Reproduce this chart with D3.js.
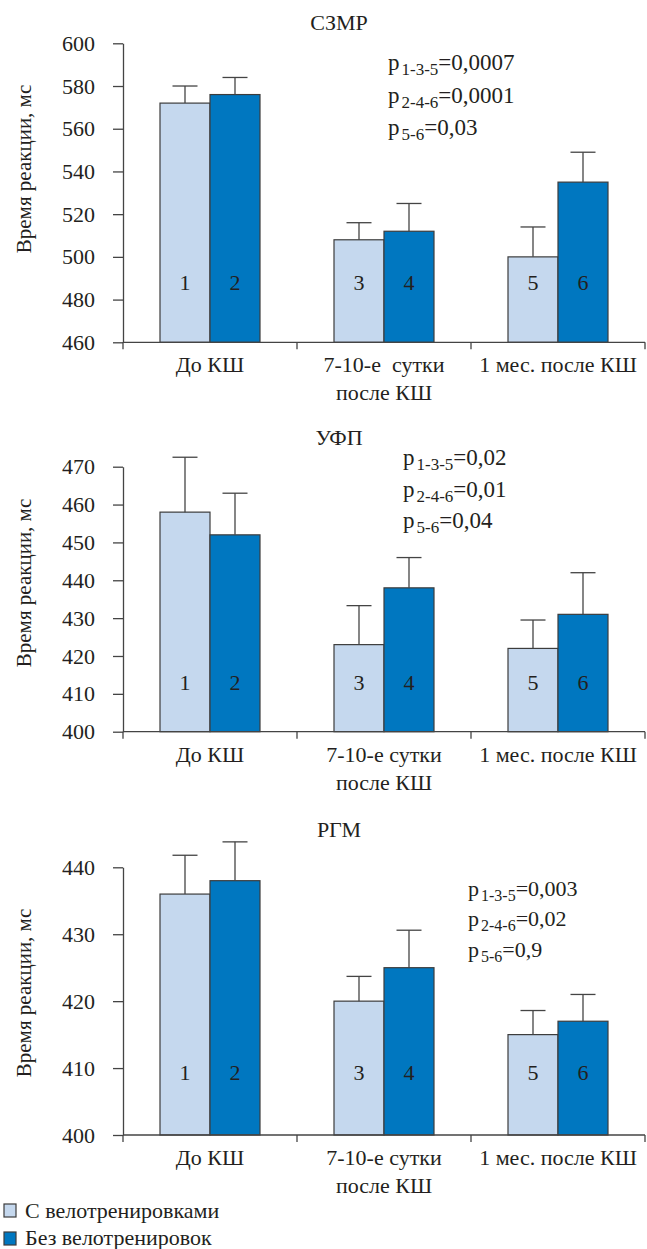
<!DOCTYPE html>
<html>
<head>
<meta charset="utf-8">
<script src="https://cdn.jsdelivr.net/npm/d3@7"></script>
<style>
  body { margin: 0; background: #fff; }
  svg text { font-family: "Liberation Serif", "Times New Roman", serif; fill: #231f20; }
</style>
</head>
<body>
<script>
// categories and series
var categories = ['До КШ', '7-10-е сутки', '1 мес. после КШ'];
var catLines1 = [['До КШ'], ['7-10-е  сутки', 'после КШ'], ['1 мес. после КШ']];
var catLines = [['До КШ'], ['7-10-е сутки', 'после КШ'], ['1 мес. после КШ']];
var seriesNames = ['С велотренировками', 'Без велотренировок'];
var barNumbers = [[1, 2], [3, 4], [5, 6]];

// СЗМР
var szmrLight = [572, 508, 500];
var szmrLightErr = [8, 8, 14];
var szmrDark = [576, 512, 535];
var szmrDarkErr = [8, 13, 14];
var szmrTicks = [460, 480, 500, 520, 540, 560, 580, 600];
var szmrP = [['1-3-5', '0,0007'], ['2-4-6', '0,0001'], ['5-6', '0,03']];

// УФП
var ufpLight = [458, 423, 422];
var ufpLightErr = [14.5, 10.3, 7.5];
var ufpDark = [452, 438, 431];
var ufpDarkErr = [11, 8, 11];
var ufpTicks = [400, 410, 420, 430, 440, 450, 460, 470];
var ufpP = [['1-3-5', '0,02'], ['2-4-6', '0,01'], ['5-6', '0,04']];

// РГМ
var rgmLight = [436, 420, 415];
var rgmLightErr = [5.8, 3.7, 3.6];
var rgmDark = [438, 425, 417];
var rgmDarkErr = [5.8, 5.6, 4];
var rgmTicks = [400, 410, 420, 430, 440];
var rgmP = [['1-3-5', '0,003'], ['2-4-6', '0,02'], ['5-6', '0,9']];

var colors = ['#c5d8ee', '#0077c0'];
var edge = '#3c3c3c';

var svg = d3.select('body').append('svg')
    .attr('width', 647)
    .attr('height', 1249);

var panels = [
    {title: 'СЗМР', titleY: 30, top: 43.3, bottom: 342.3, domain: [460, 600], ticks: szmrTicks,
     vals: [szmrLight, szmrDark], errs: [szmrLightErr, szmrDarkErr], cats: catLines1,
     p: szmrP, pX: 388, pY: 70, pStep: 32.5, pSize: 23, numOff: 52, labelY: 169},
    {title: 'УФП', titleY: 445, top: 466.7, bottom: 731.7, domain: [400, 470], ticks: ufpTicks,
     vals: [ufpLight, ufpDark], errs: [ufpLightErr, ufpDarkErr], cats: catLines,
     p: ufpP, pX: 403, pY: 465, pStep: 31.7, pSize: 23, numOff: 42, labelY: 583},
    {title: 'РГМ', titleY: 837, top: 867.3, bottom: 1135, domain: [400, 440], ticks: rgmTicks,
     vals: [rgmLight, rgmDark], errs: [rgmLightErr, rgmDarkErr], cats: catLines,
     p: rgmP, pX: 468, pY: 896, pStep: 30.3, pSize: 22, numOff: 55, labelY: 993}
];

var left = 123, right = 645;

panels.forEach(function(pn) {
    var g = svg.append('g');

    var x0 = d3.scaleBand().domain(categories).range([left, right]);
    var bw = x0.bandwidth();
    var x1 = d3.scaleBand().domain([0, 1]).range([bw / 2 - 50, bw / 2 + 50]);
    var y = d3.scaleLinear().domain(pn.domain).range([pn.bottom, pn.top]);

    // title
    g.append('text')
        .attr('x', 339).attr('y', pn.titleY)
        .attr('text-anchor', 'middle')
        .style('font-size', '22px')
        .text(pn.title);

    // y axis
    var ax = g.append('g')
        .attr('transform', 'translate(' + left + ',0)')
        .call(d3.axisLeft(y).tickValues(pn.ticks).tickSize(10).tickSizeOuter(0).tickPadding(18));
    ax.selectAll('path, line').attr('stroke', '#444').attr('stroke-width', 1.3);
    ax.selectAll('text').style('font-size', '22px').attr('fill', '#231f20');

    // y label
    g.append('text')
        .attr('transform', 'translate(31,' + pn.labelY + ') rotate(-90)')
        .attr('text-anchor', 'middle')
        .style('font-size', '21px')
        .text('Время реакции, мс');

    // bars
    categories.forEach(function(c, i) {
        [0, 1].forEach(function(s) {
            var v = pn.vals[s][i];
            var bx = x0(c) + x1(s);
            var cx = bx + x1.bandwidth() / 2;
            g.append('rect')
                .attr('x', bx).attr('y', y(v))
                .attr('width', x1.bandwidth())
                .attr('height', y(pn.domain[0]) - y(v))
                .attr('fill', colors[s])
                .attr('stroke', edge)
                .attr('stroke-width', 1.2);
            var top = y(v + pn.errs[s][i]);
            g.append('line')
                .attr('x1', cx).attr('x2', cx)
                .attr('y1', y(v)).attr('y2', top)
                .attr('stroke', '#444').attr('stroke-width', 1.3);
            g.append('line')
                .attr('x1', cx - 12.5).attr('x2', cx + 12.5)
                .attr('y1', top).attr('y2', top)
                .attr('stroke', '#444').attr('stroke-width', 1.3);
            g.append('text')
                .attr('x', cx).attr('y', pn.bottom - pn.numOff)
                .attr('text-anchor', 'middle')
                .style('font-size', '22px')
                .text(barNumbers[i][s]);
        });
    });

    // x axis
    g.append('line')
        .attr('x1', left).attr('x2', right)
        .attr('y1', pn.bottom).attr('y2', pn.bottom)
        .attr('stroke', '#444').attr('stroke-width', 1.3);
    var bounds = categories.map(function(c) { return x0(c); }).concat([right]);
    g.selectAll('.xt').data(bounds).enter()
        .append('line')
        .attr('x1', function(d) { return d; }).attr('x2', function(d) { return d; })
        .attr('y1', pn.bottom).attr('y2', pn.bottom + 7)
        .attr('stroke', '#444').attr('stroke-width', 1.3);

    categories.forEach(function(c, i) {
        var t = g.append('text')
            .attr('x', x0(c) + bw / 2)
            .attr('y', pn.bottom + 30)
            .attr('text-anchor', 'middle')
            .style('font-size', '22px')
            .style('white-space', 'pre');
        pn.cats[i].forEach(function(line, k) {
            t.append('tspan')
                .attr('x', x0(c) + bw / 2)
                .attr('dy', k === 0 ? 0 : 28)
                .text(line);
        });
    });

    // p values
    pn.p.forEach(function(row, k) {
        var t = g.append('text')
            .attr('x', pn.pX)
            .attr('y', pn.pY + k * pn.pStep)
            .style('font-size', pn.pSize + 'px');
        t.append('tspan').text('p');
        t.append('tspan').attr('dx', 2).attr('dy', 5).style('font-size', (pn.pSize - 6) + 'px').text(row[0]);
        t.append('tspan').attr('dy', -5).text('=' + row[1]);
    });
});

// legend
seriesNames.forEach(function(name, i) {
    svg.append('rect')
        .attr('x', 4).attr('y', 1204 + i * 28)
        .attr('width', 12).attr('height', 13)
        .attr('fill', colors[i])
        .attr('stroke', edge).attr('stroke-width', 1.2);
    svg.append('text')
        .attr('x', 25).attr('y', 1218 + i * 27)
        .style('font-size', '22px')
        .text(name);
});
</script>
</body>
</html>
